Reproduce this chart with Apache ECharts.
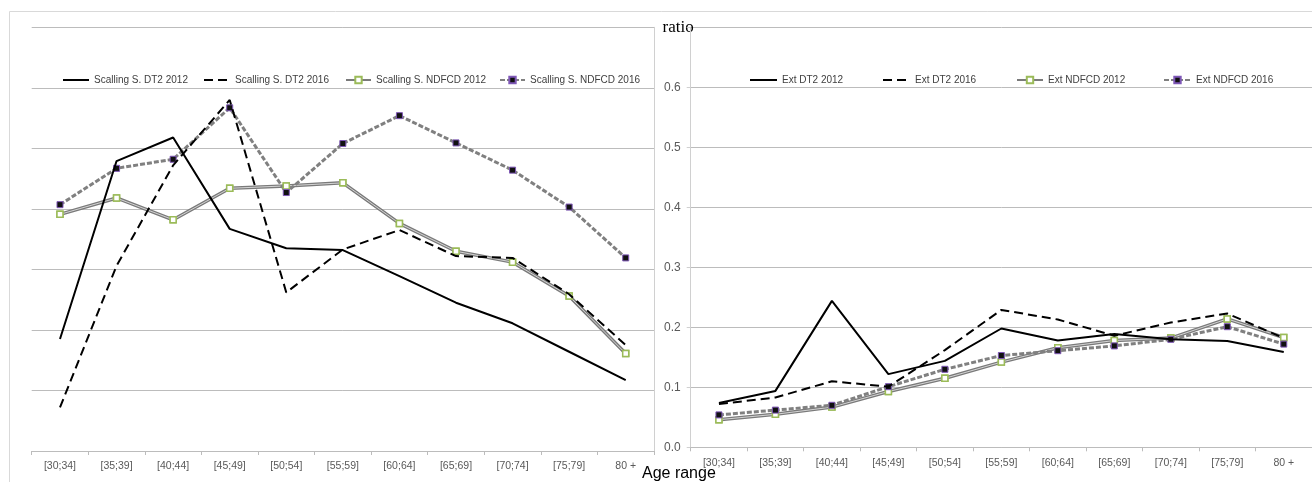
<!DOCTYPE html>
<html>
<head>
<meta charset="utf-8">
<script src="https://cdn.jsdelivr.net/npm/echarts@6/dist/echarts.min.js"></script>
<style>html,body{margin:0;padding:0;background:#fff;}#c{width:1312px;height:482px;}</style>
</head>
<body>
<div id="c"></div>
<script>
const categories = ['[30;34]','[35;39]','[40;44]','[45;49]','[50;54]','[55;59]','[60;64]','[65;69]','[70;74]','[75;79]','80 +'];
const yTicks = [0, 0.1, 0.2, 0.3, 0.4, 0.5, 0.6, 0.7];

const scDT2_2012   = [0.185,0.479,0.518,0.367,0.335,0.332,0.289,0.245,0.211,0.164,0.117];
const scDT2_2016   = [0.072,0.306,0.472,0.580,0.262,0.333,0.365,0.322,0.319,0.259,0.175];
const scNDFCD_2012 = [0.391,0.418,0.382,0.434,0.438,0.443,0.376,0.330,0.312,0.256,0.161];
const scNDFCD_2016 = [0.407,0.467,0.482,0.567,0.427,0.508,0.554,0.509,0.464,0.403,0.319];

const extDT2_2012   = [0.074,0.094,0.244,0.122,0.144,0.198,0.178,0.189,0.180,0.177,0.159];
const extDT2_2016   = [0.072,0.083,0.110,0.101,0.162,0.229,0.213,0.186,0.208,0.223,0.182];
const extNDFCD_2012 = [0.046,0.055,0.067,0.093,0.115,0.142,0.166,0.178,0.182,0.214,0.183];
const extNDFCD_2016 = [0.054,0.062,0.070,0.101,0.130,0.153,0.161,0.169,0.180,0.201,0.172];

const names = {
  l1:'Scalling S. DT2 2012', l2:'Scalling S. DT2 2016', l3:'Scalling S. NDFCD 2012', l4:'Scalling S. NDFCD 2016',
  r1:'Ext DT2 2012', r2:'Ext DT2 2016', r3:'Ext NDFCD 2012', r4:'Ext NDFCD 2016'
};

const SANS = "'Liberation Sans',Arial,sans-serif";
const GRID = '#bcbcbc';

function dtSeries(name, data, idx, dashed){
  return {type:'line', name, data, xAxisIndex:idx, yAxisIndex:idx, symbol:'none', showSymbol:false, z:5,
    lineStyle:{color:'#000', width:2, type: dashed ? [9,5] : 'solid'}, itemStyle:{color:'#000'}};
}
function nd12Series(name, data, idx){
  return [
    {type:'line', name, data, xAxisIndex:idx, yAxisIndex:idx, symbol:'rect', symbolSize:6, z:2,
      lineStyle:{color:'#7a7a7a', width:3.5}, itemStyle:{color:'#fff', borderColor:'#9bbb59', borderWidth:1.5}},
    {type:'line', name:name+' inner', data, xAxisIndex:idx, yAxisIndex:idx, symbol:'none', z:3, silent:true,
      lineStyle:{color:'#d4d4d4', width:1}},
    {type:'line', name:name+' marks', data, xAxisIndex:idx, yAxisIndex:idx, symbol:'rect', symbolSize:6, z:4, silent:true,
      lineStyle:{width:0, opacity:0}, itemStyle:{color:'#fff', borderColor:'#9bbb59', borderWidth:1.5}}
  ];
}
function nd16Series(name, data, idx){
  return {type:'line', name, data, xAxisIndex:idx, yAxisIndex:idx, symbol:'rect', symbolSize:6, z:4,
    lineStyle:{color:'#808080', width:3, type:[5,2]}, itemStyle:{color:'#111', borderColor:'#7e57b6', borderWidth:1}};
}

function legend(name, left, w, noSymbol){
  const l = {data:[name], left:left, top:75, itemWidth:w, itemHeight:8, itemGap:0, padding:0,
    textStyle:{fontFamily:SANS, fontSize:10, color:'#404040'}, selectedMode:false};
  if (noSymbol) l.itemStyle = {opacity:0};
  return l;
}

function xAxis(idx, extra){
  return Object.assign({type:'category', gridIndex:idx, data:categories,
    axisLine:{show:true, lineStyle:{color:GRID, width:1}},
    axisTick:{show:true, length:4, lineStyle:{color:GRID}},
    axisLabel:{interval:0, fontFamily:SANS, fontSize:10.5, color:'#595959', margin:10},
    splitLine:{show:false}}, extra||{});
}

const option = {
  animation:false,
  grid:[
    {left:31.7, top:27.3, width:622.3, height:423.7},
    {left:690.7, top:27.3, width:627, height:420}
  ],
  xAxis:[
    xAxis(0, {name:'Age range', nameLocation:'end', nameGap:-21,
      nameTextStyle:{fontFamily:SANS, fontSize:16, color:'#000', align:'left', verticalAlign:'top', padding:[15,0,0,0]}}),
    xAxis(1)
  ],
  yAxis:[
    {type:'value', gridIndex:0, position:'right', min:yTicks[0], max:yTicks[yTicks.length-1], interval:0.1,
      axisLine:{show:true, lineStyle:{color:'#d0d0d0'}}, axisTick:{show:false}, axisLabel:{show:false},
      splitLine:{show:true, lineStyle:{color:GRID}}},
    {type:'value', gridIndex:1, position:'left', min:yTicks[0], max:yTicks[yTicks.length-1], interval:0.1,
      name:'ratio', nameLocation:'end', nameGap:0,
      nameTextStyle:{fontFamily:"'Liberation Serif',serif", fontSize:17, color:'#000', align:'right', verticalAlign:'middle', padding:[0,-3,0,0]},
      axisLine:{show:true, lineStyle:{color:'#d0d0d0'}},
      axisTick:{show:true, length:4, lineStyle:{color:'#d0d0d0'}},
      axisLabel:{fontFamily:SANS, fontSize:12, color:'#595959', margin:10,
        formatter:function(v){ return Math.abs(v-0.7)<1e-6 ? '' : v.toFixed(1); }},
      splitLine:{show:true, lineStyle:{color:GRID}}}
  ],
  legend:[
    legend(names.l1, 62, 26, true), legend(names.l2, 203, 26, true), legend(names.l3, 345, 25), legend(names.l4, 499, 25),
    legend(names.r1, 749, 27, true), legend(names.r2, 882, 27, true), legend(names.r3, 1016, 26), legend(names.r4, 1163, 27)
  ],
  graphic:[
    {type:'rect', silent:true, z:-10, shape:{x:9.5, y:11.5, width:1400, height:600},
      style:{fill:'none', stroke:'#d9d9d9', lineWidth:1}}
  ],
  series:[
    dtSeries(names.l1, scDT2_2012, 0, false),
    dtSeries(names.l2, scDT2_2016, 0, true),
    ...nd12Series(names.l3, scNDFCD_2012, 0),
    nd16Series(names.l4, scNDFCD_2016, 0),
    dtSeries(names.r1, extDT2_2012, 1, false),
    dtSeries(names.r2, extDT2_2016, 1, true),
    ...nd12Series(names.r3, extNDFCD_2012, 1),
    nd16Series(names.r4, extNDFCD_2016, 1)
  ]
};

const chart = echarts.init(document.getElementById('c'), null, {renderer:'canvas'});
chart.setOption(option);
</script>
</body>
</html>
